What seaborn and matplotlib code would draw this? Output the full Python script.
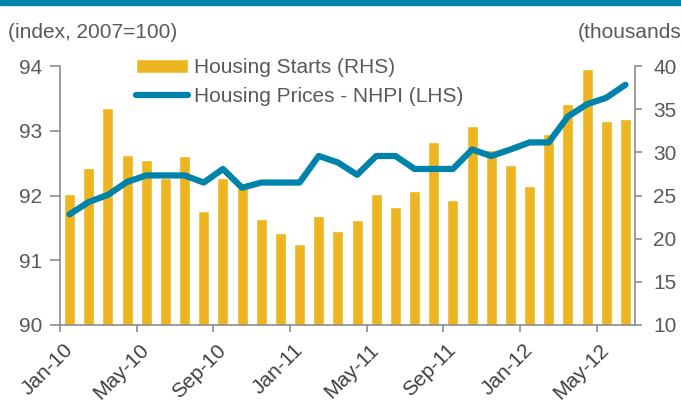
import numpy as np
import pandas as pd
import matplotlib
matplotlib.use("Agg")
import matplotlib.pyplot as plt
import seaborn as sns

months = ["Jan-10","Feb-10","Mar-10","Apr-10","May-10","Jun-10","Jul-10","Aug-10","Sep-10","Oct-10","Nov-10","Dec-10",
          "Jan-11","Feb-11","Mar-11","Apr-11","May-11","Jun-11","Jul-11","Aug-11","Sep-11","Oct-11","Nov-11","Dec-11",
          "Jan-12","Feb-12","Mar-12","Apr-12","May-12","Jun-12"]
housing_starts = [25.2, 28.2, 35.1, 29.7, 29.1, 27.0, 29.6, 23.2, 27.0, 26.4, 22.3, 20.7,
                  19.4, 22.6, 20.9, 22.2, 25.2, 23.7, 25.5, 31.2, 24.5, 33.1, 30.3, 28.5,
                  26.1, 32.1, 35.6, 39.7, 33.6, 33.9]
nhpi = [91.71, 91.90, 92.01, 92.21, 92.31, 92.31, 92.31, 92.20, 92.41, 92.12, 92.20, 92.20,
        92.20, 92.61, 92.51, 92.32, 92.61, 92.61, 92.41, 92.41, 92.41, 92.71, 92.61, 92.71,
        92.82, 92.82, 93.22, 93.41, 93.51, 93.71]
tick_labels = ["Jan-10","May-10","Sep-10","Jan-11","May-11","Sep-11","Jan-12","May-12"]

BAR = "#EDB620"
LINE = "#0083AB"
GRAY = "#595959"
SPINE = "#8c8c8c"
FS = 15

sns.set_style("white")
plt.rcParams["font.family"] = ["Liberation Sans", "DejaVu Sans"]

df = pd.DataFrame({"month": months, "starts": housing_starts, "nhpi": nhpi, "idx": np.arange(len(months))})

fig = plt.figure(figsize=(6.81, 4.08), dpi=100)
ax = fig.add_axes([60/681, 1-325/408, 575/681, 259/408])

sns.barplot(data=df, x="idx", y="starts", color=BAR, width=0.58, ax=ax,
            saturation=1, label="Housing Starts (RHS)", native_scale=True)
ax.set_ylim(10, 40)
ax.set_yticks([10, 15, 20, 25, 30, 35, 40])
ax.set_xlim(-0.5, len(months) - 0.5)

ax2 = ax.twinx()
sns.lineplot(data=df, x="idx", y="nhpi", color=LINE, lw=4.5, ax=ax2,
             label="Housing Prices - NHPI (LHS)", solid_capstyle="round")
ax2.set_ylim(90, 94)
ax2.set_yticks([90, 91, 92, 93, 94])

for a in (ax, ax2):
    a.set_xlabel("")
    a.set_ylabel("")
    for s in a.spines.values():
        s.set_visible(False)

ax.spines["bottom"].set_visible(True)
ax.spines["right"].set_visible(True)
ax2.spines["left"].set_visible(True)
for s in (ax.spines["bottom"], ax.spines["right"], ax2.spines["left"]):
    s.set_color(SPINE)
    s.set_linewidth(1.2)

# tick marks at category boundaries, labels at the month positions
label_pos = np.arange(0, len(months), 4)
ax.set_xticks(label_pos - 0.5)
ax.set_xticklabels([])
ax.set_xticks(label_pos, minor=True)
ax.set_xticklabels(tick_labels, minor=True, rotation=45, ha="right", va="center",
                   rotation_mode="anchor", fontsize=FS, color="#404040")
ax.tick_params(axis="x", which="major", length=5, color=SPINE, width=1.2, bottom=True)
ax.tick_params(axis="x", which="minor", length=0, pad=16, bottom=True)
ax.tick_params(axis="y", length=5, color=SPINE, width=1.2, labelsize=FS, labelcolor=GRAY,
               direction="out", right=True, left=False, labelright=True, labelleft=False, pad=8)
ax2.tick_params(axis="y", length=7, color=SPINE, width=1.2, labelsize=FS, labelcolor=GRAY,
                direction="out", left=True, right=False, labelleft=True, labelright=False, pad=6)

h1, l1 = ax.get_legend_handles_labels()
h2, l2 = ax2.get_legend_handles_labels()
if ax.get_legend():
    ax.get_legend().remove()
leg = ax2.legend(h1 + h2, l1 + l2, loc="upper left", bbox_to_anchor=(76/575, 1.03),
                 frameon=False, fontsize=FS, handlelength=2.5, handleheight=0.6,
                 labelspacing=0.45, handletextpad=0.3, borderaxespad=0, borderpad=0)
for t in leg.get_texts():
    t.set_color(GRAY)

fig.text(8/681, 1-32/408, "(index, 2007=100)", fontsize=FS, color=GRAY, va="center", ha="left")
fig.text(578/681, 1-32/408, "(thousands)", fontsize=FS, color=GRAY, va="center", ha="left")

fig.patches.append(plt.Rectangle((0, 1-5/408), 1, 5/408, transform=fig.transFigure,
                                 color=LINE, zorder=10))

fig.savefig("out.png", dpi=100)
